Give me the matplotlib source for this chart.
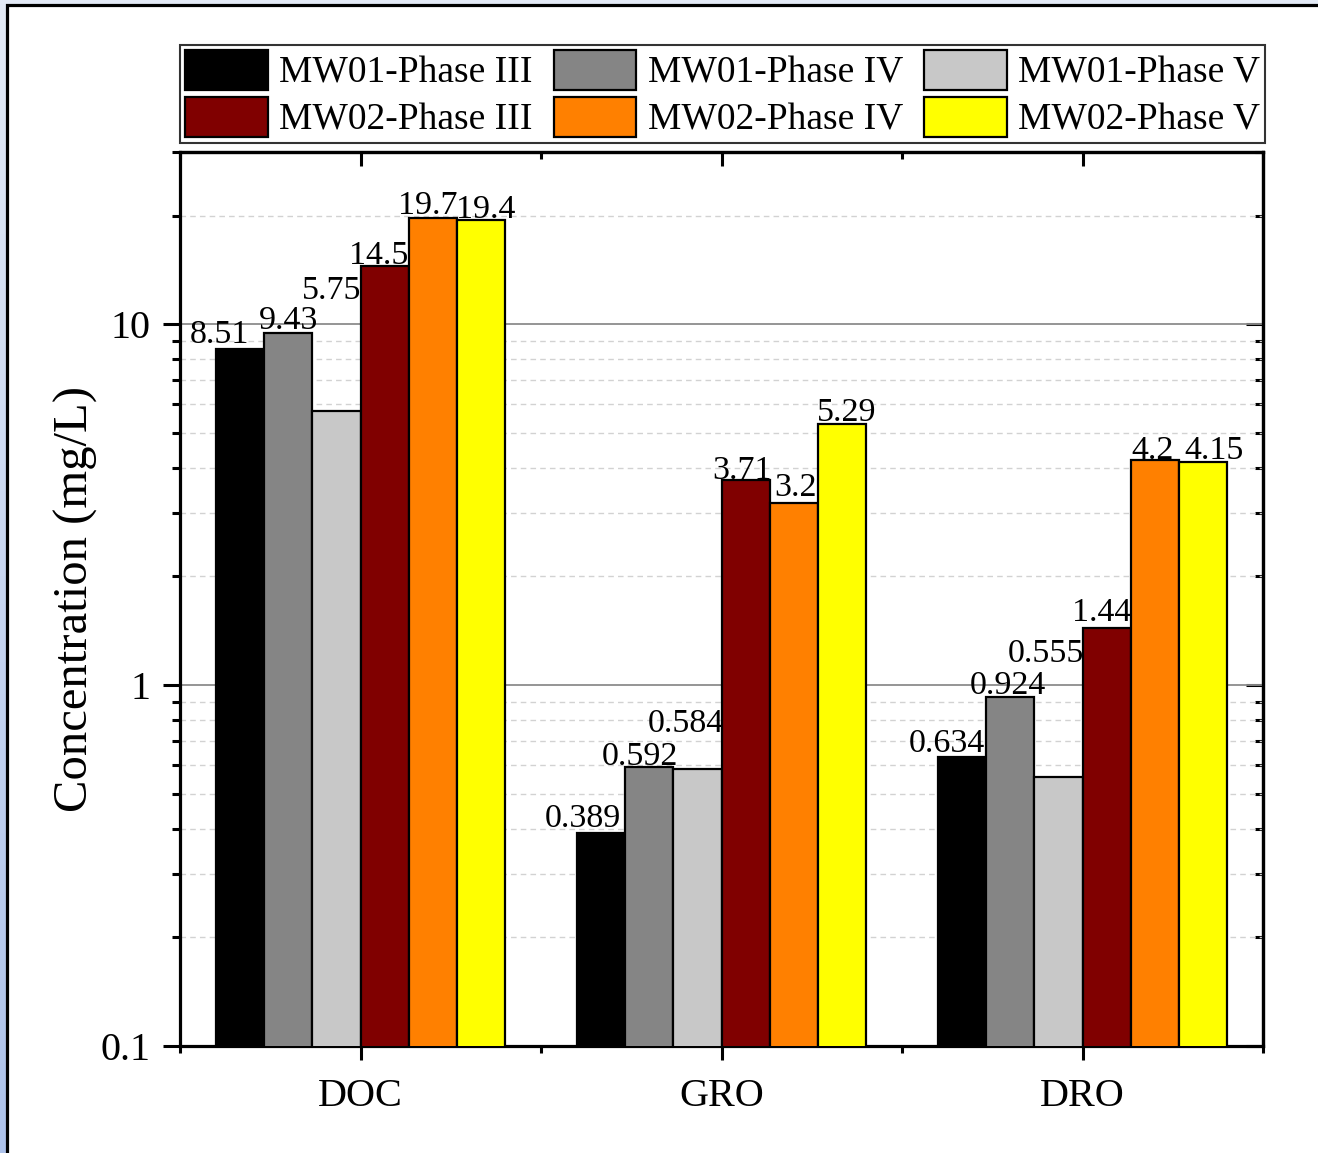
import numpy as np
import matplotlib
matplotlib.use("Agg")
import matplotlib.pyplot as plt
from matplotlib.patches import Rectangle
from matplotlib.colors import LinearSegmentedColormap
from matplotlib.ticker import LogLocator, NullFormatter, FuncFormatter, FixedLocator

# ─── DATA ─────────────────────────────────────────────────────────────────────
categories = ["DOC", "GRO", "DRO"]

mw01_phase3 = [8.51, 0.389, 0.634]
mw01_phase4 = [9.43, 0.592, 0.924]
mw01_phase5 = [5.75, 0.584, 0.555]
mw02_phase3 = [14.5, 3.71, 1.44]
mw02_phase4 = [19.7, 3.2, 4.2]
mw02_phase5 = [19.4, 5.29, 4.15]

series_labels = ["MW01-Phase III", "MW01-Phase IV", "MW01-Phase V",
                 "MW02-Phase III", "MW02-Phase IV", "MW02-Phase V"]

# ─── STYLE ────────────────────────────────────────────────────────────────────
colors = ["#000000", "#858585", "#c8c8c8", "#800000", "#ff8000", "#ffff00"]

# label offsets (pixels) relative to the bar top, per series / per group
label_offsets = [
    [(-21, 6), (-19, 6), (-16, 5)],
    [(0, 4), (-10, 2), (-3, 3)],
    [(-5, 112), (-12, 37), (-13, 115)],
    [(-6, 2), (-4, 1), (-5, 7)],
    [(-5, 4), (2, 7), (-2, 1)],
    [(5, 2), (5, 3), (12, 3)],
]

plt.rcParams.update({
    "font.family": ["Liberation Serif", "DejaVu Serif"],
    "axes.linewidth": 2.3,
})

W, H = 1318, 1153
fig = plt.figure(figsize=(W / 100, H / 100), dpi=100)

# background: screenshot frame
bg = fig.add_axes([0, 0, 1, 1], zorder=-5)
grad = np.linspace(0, 1, 256).reshape(-1, 1)
cmap = LinearSegmentedColormap.from_list("bgc", ["#e3eaf6", "#adc2ea"])
bg.imshow(grad, extent=[0, 1, 0, 1], aspect="auto", cmap=cmap, origin="upper")
bg.add_patch(Rectangle((7 / W, -0.1), 1.2, 1.1 - 5 / H, facecolor="white",
                       edgecolor="black", linewidth=2.3, transform=bg.transAxes))
bg.set_xlim(0, 1)
bg.set_ylim(0, 1)
bg.axis("off")

ax = fig.add_axes([180 / W, 1 - 1046 / H, 1083 / W, 894 / H])
ax.set_facecolor("white")

series = [mw01_phase3, mw01_phase4, mw01_phase5,
          mw02_phase3, mw02_phase4, mw02_phase5]
x = np.arange(1, len(categories) + 1)
width = 0.133

handles = []
for j, (vals, col, lab) in enumerate(zip(series, colors, series_labels)):
    xs = x + (j - 2.5) * width
    bars = ax.bar(xs, vals, width=width, color=col, edgecolor="black",
                  linewidth=1.6, label=lab, zorder=3)
    handles.append(bars)
    for k, (xx, v) in enumerate(zip(xs, vals)):
        dx, dy = label_offsets[j][k]
        ax.annotate(f"{v:g}", (xx, v), xytext=(dx, dy),
                    textcoords="offset pixels", ha="center", va="baseline",
                    fontsize=24.5, zorder=5)

ax.set_yscale("log")
ax.set_ylim(0.1, 30)
ax.set_xlim(0.5, 3.5)

ax.set_xticks(x)
ax.set_xticklabels(categories)
ax.xaxis.set_minor_locator(FixedLocator([0.5, 1.5, 2.5, 3.5]))
ax.yaxis.set_major_locator(LogLocator(base=10))
ax.yaxis.set_minor_locator(LogLocator(base=10, subs=np.arange(2, 10)))
ax.yaxis.set_major_formatter(FuncFormatter(lambda v, _: f"{v:g}"))
ax.yaxis.set_minor_formatter(NullFormatter())

ax.tick_params(axis="x", which="major", direction="out", length=10, width=2.2,
               labelsize=29, pad=13)
ax.tick_params(axis="x", which="minor", direction="out", length=5, width=2.2)
ax.tick_params(axis="y", which="major", direction="out", length=12, width=2.2,
               labelsize=29, pad=9)
ax.tick_params(axis="y", which="minor", direction="out", length=6, width=2.2)

ax.yaxis.grid(True, which="major", color="#8c8c8c", linewidth=1.3)
ax.yaxis.grid(True, which="minor", color="#d2d2d2", linewidth=1.0,
              linestyle=(0, (4, 3)))
ax.set_axisbelow(True)

# mirrored ticks pointing inward on top / right
top = ax.secondary_xaxis("top")
top.set_xticks(x)
top.xaxis.set_minor_locator(FixedLocator([0.5, 1.5, 2.5, 3.5]))
top.tick_params(which="major", direction="in", length=10, width=2.2, labeltop=False)
top.tick_params(which="minor", direction="in", length=5, width=2.2)
top.spines["top"].set_linewidth(2.3)

right = ax.secondary_yaxis("right")
right.yaxis.set_major_locator(LogLocator(base=10))
right.yaxis.set_minor_locator(LogLocator(base=10, subs=np.arange(2, 10)))
right.yaxis.set_major_formatter(NullFormatter())
right.yaxis.set_minor_formatter(NullFormatter())
right.tick_params(which="major", direction="in", length=12, width=2.2, labelright=False)
right.tick_params(which="minor", direction="in", length=6, width=2.2)
right.spines["right"].set_linewidth(2.3)

ax.set_ylabel("Concentration (mg/L)", fontsize=35)
ax.yaxis.set_label_coords(-0.076, 0.5)

order = [0, 3, 1, 4, 2, 5]
leg = ax.legend([handles[i] for i in order], [series_labels[i] for i in order],
                ncol=3, loc="lower left", bbox_to_anchor=(0, 1.01, 1.002, 0.1),
                mode="expand", borderaxespad=0, fontsize=27, fancybox=False,
                framealpha=1, edgecolor="#333333", handlelength=2.2,
                handleheight=1.26, handletextpad=0.3, labelspacing=0.17,
                borderpad=0.14, columnspacing=0.8)
leg.get_frame().set_linewidth(1.5)

fig.savefig("out.png", dpi=100)
